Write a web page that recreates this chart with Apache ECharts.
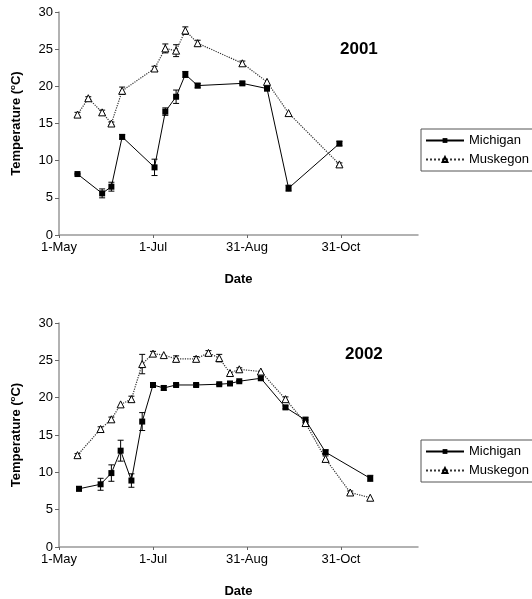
<!DOCTYPE html>
<html><head><meta charset="utf-8">
<script src="https://cdn.jsdelivr.net/npm/echarts@6/dist/echarts.min.js"></script>
<style>html,body{margin:0;padding:0;background:#fff}#c{width:532px;height:599px}</style>
</head><body><div id="c"></div>
<script>
const tickLabels = ['1-May', '1-Jul', '31-Aug', '31-Oct'];

const dates2001 = ['2001-05-13','2001-05-20','2001-05-29','2001-06-04','2001-06-11','2001-07-02','2001-07-09','2001-07-16','2001-07-22','2001-07-30','2001-08-28','2001-09-13','2001-09-27','2001-10-30'];
const michigan2001 = [8.2, null, 5.6, 6.5, 13.2, 9.1, 16.6, 18.6, 21.6, 20.1, 20.4, 19.7, 6.3, 12.3];
const michiganErr2001 = [0.1, null, 0.6, 0.6, 0.3, 1.1, 0.5, 0.9, 0.4, 0.3, 0.2, 0.3, 0.4, 0.3];
const muskegon2001 = [16.2, 18.4, 16.5, 15.0, 19.4, 22.4, 25.1, 24.8, 27.5, 25.8, 23.1, 20.6, 16.4, 9.5];
const muskegonErr2001 = [0.3, 0.2, 0.3, 0.2, 0.5, 0.3, 0.6, 0.8, 0.5, 0.4, 0.3, 0, 0, 0.2];

const dates2002 = ['2002-05-13','2002-05-14','2002-05-28','2002-06-04','2002-06-10','2002-06-17','2002-06-24','2002-07-01','2002-07-08','2002-07-16','2002-07-29','2002-08-06','2002-08-13','2002-08-20','2002-08-26','2002-09-09','2002-09-25','2002-10-08','2002-10-21','2002-11-06','2002-11-19'];
const michigan2002 = [null, 7.8, 8.4, 9.9, 12.9, 8.9, 16.8, 21.7, 21.3, 21.7, 21.7, null, 21.8, 21.9, 22.2, 22.6, 18.7, 17.0, 12.7, null, 9.2];
const michiganErr2002 = [null, 0.3, 0.8, 1.1, 1.4, 0.9, 1.2, 0.3, 0.3, 0.2, 0.2, null, 0.1, 0.2, 0.1, 0.2, 0.2, 0.4, 0.3, null, 0.4];
const muskegon2002 = [12.3, null, 15.8, 17.1, 19.1, 19.8, 24.5, 25.9, 25.7, 25.2, 25.2, 26.0, 25.3, 23.3, 23.8, 23.5, 19.8, 16.6, 11.8, 7.3, 6.6];
const muskegonErr2002 = [0.2, null, 0.3, 0.3, 0, 0.4, 1.3, 0.3, 0, 0.4, 0.3, 0.3, 0.5, 0, 0.2, 0, 0.3, 0.4, 0.4, 0.2, 0];

const FONT = "'Liberation Sans', Arial, sans-serif";

function dayOffset(s) {
  const [y, m, d] = s.split('-').map(Number);
  return (Date.UTC(y, m - 1, d) - Date.UTC(y, 4, 1)) / 86400000;
}
function pts(dates, vals) {
  const out = [];
  dates.forEach((d, i) => { if (vals[i] != null) out.push([dayOffset(d), vals[i]]); });
  return out;
}
function errs(dates, vals, e) {
  const out = [];
  dates.forEach((d, i) => { if (vals[i] != null && e[i]) out.push([dayOffset(d), vals[i] - e[i], vals[i] + e[i]]); });
  return out;
}
function errSeries(idx, data) {
  return {
    type: 'custom', xAxisIndex: idx, yAxisIndex: idx, z: 1, silent: true,
    data: data,
    encode: { x: 0, y: [1, 2] },
    renderItem: function (params, api) {
      const x = api.value(0);
      const lo = api.coord([x, api.value(1)]);
      const hi = api.coord([x, api.value(2)]);
      const w = 3;
      const st = { stroke: '#000', lineWidth: 1 };
      return { type: 'group', children: [
        { type: 'line', shape: { x1: lo[0], y1: lo[1], x2: hi[0], y2: hi[1] }, style: st },
        { type: 'line', shape: { x1: lo[0] - w, y1: lo[1], x2: lo[0] + w, y2: lo[1] }, style: st },
        { type: 'line', shape: { x1: hi[0] - w, y1: hi[1], x2: hi[0] + w, y2: hi[1] }, style: st }
      ]};
    }
  };
}
function michSeries(idx, data) {
  return { name: 'Michigan', type: 'line', xAxisIndex: idx, yAxisIndex: idx, z: 3, data: data,
    symbol: 'rect', symbolSize: 6, connectNulls: true,
    lineStyle: { color: '#000', width: 1 }, itemStyle: { color: '#000' } };
}
function muskSeries(idx, data) {
  return { name: 'Muskegon', type: 'line', xAxisIndex: idx, yAxisIndex: idx, z: 3, data: data,
    symbol: 'triangle', symbolSize: 7, connectNulls: true,
    lineStyle: { color: '#333', width: 1.2, type: 'dotted' },
    itemStyle: { color: '#fff', borderColor: '#000', borderWidth: 1 } };
}
function xAxis(idx) {
  return { type: 'value', gridIndex: idx, min: 0, max: 233, interval: 61,
    name: 'Date', nameLocation: 'middle', nameGap: 38,
    nameTextStyle: { fontFamily: FONT, fontSize: 13, fontWeight: 'bold', color: '#000' },
    axisLine: { lineStyle: { color: '#999', width: 1.5 } },
    axisTick: { show: true, length: 3, lineStyle: { color: '#666' } },
    axisLabel: { margin: 6, showMaxLabel: false, fontFamily: FONT, fontSize: 13, color: '#000',
      formatter: v => { const k = Math.round(v / 61); return (v % 61 === 0 && k < tickLabels.length) ? tickLabels[k] : ''; } },
    splitLine: { show: false } };
}
function yAxis(idx) {
  return { type: 'value', gridIndex: idx, min: 0, max: 30, interval: 5,
    name: 'Temperature ({sup|o}C)', nameLocation: 'middle', nameGap: 36, nameRotate: 90,
    nameTextStyle: { fontFamily: FONT, fontSize: 13, fontWeight: 'bold', color: '#000',
      rich: { sup: { fontFamily: FONT, fontSize: 8, fontWeight: 'bold', color: '#000', verticalAlign: 'top', padding: [0, 0, 6, 0] } } },
    axisLine: { show: true, lineStyle: { color: '#999', width: 1.5 } },
    axisTick: { show: true, length: 4, lineStyle: { color: '#666' } },
    axisLabel: { margin: 6, fontFamily: FONT, fontSize: 13, color: '#000' },
    splitLine: { show: false } };
}
function legend(top) {
  return { orient: 'vertical', left: 421, top: top, data: ['Michigan', 'Muskegon'],
    selectedMode: false, borderColor: '#555', borderWidth: 1, backgroundColor: '#fff',
    padding: [5, 4, 5, 4], itemGap: 6, itemWidth: 38, itemHeight: 6,
    textStyle: { fontFamily: FONT, fontSize: 13, color: '#000' } };
}

const chart = echarts.init(document.getElementById('c'), null, { renderer: 'canvas' });
chart.setOption({
  backgroundColor: '#fff',
  animation: false,
  title: [
    { text: '2001', left: 340, top: 41, padding: 0, textStyle: { fontFamily: FONT, fontSize: 17, fontWeight: 'bold', color: '#000' } },
    { text: '2002', left: 345, top: 346, padding: 0, textStyle: { fontFamily: FONT, fontSize: 17, fontWeight: 'bold', color: '#000' } }
  ],
  legend: [legend(129), legend(440)],
  grid: [
    { left: 59, top: 12, width: 359, height: 223 },
    { left: 59, top: 323, width: 359, height: 224 }
  ],
  xAxis: [xAxis(0), xAxis(1)],
  yAxis: [yAxis(0), yAxis(1)],
  series: [
    errSeries(0, errs(dates2001, michigan2001, michiganErr2001)),
    errSeries(0, errs(dates2001, muskegon2001, muskegonErr2001)),
    michSeries(0, pts(dates2001, michigan2001)),
    muskSeries(0, pts(dates2001, muskegon2001)),
    errSeries(1, errs(dates2002, michigan2002, michiganErr2002)),
    errSeries(1, errs(dates2002, muskegon2002, muskegonErr2002)),
    michSeries(1, pts(dates2002, michigan2002)),
    muskSeries(1, pts(dates2002, muskegon2002))
  ]
});
</script>
</body></html>
